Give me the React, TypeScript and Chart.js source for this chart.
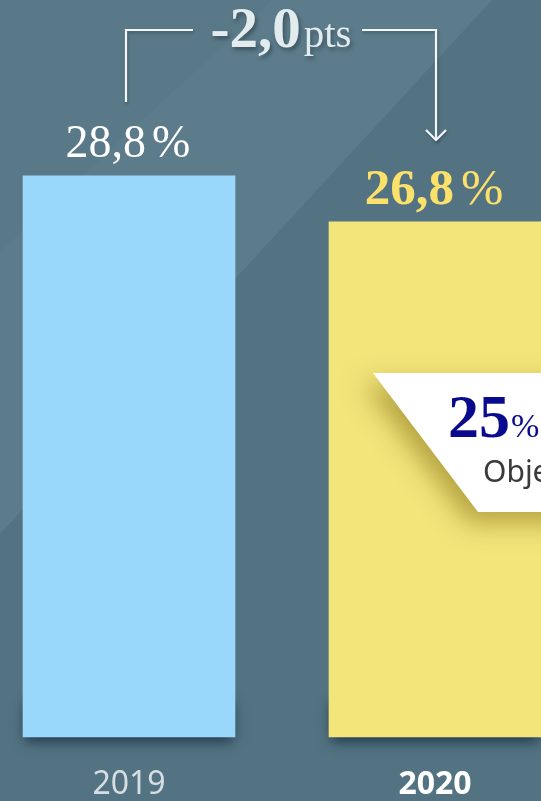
import React, { useEffect, useRef } from 'react';
import { Chart, registerables } from 'chart.js';

Chart.register(...registerables);

const categories = ['2019', '2020'];
const values = [28.8, 26.8];
const valueLabels = ['28,8', '26,8'];
const barColors = ['#99d8fa', '#f3e57a'];
const deltaValue = '-2,0';
const deltaUnit = 'pts';
const targetValue = '25';
const targetLabel = 'Objectif';
const yMin = 4.4;
const yMax = 36.45;

const SERIF = '"Liberation Serif", "DejaVu Serif", serif';
const SANS = '"Noto Sans", "Open Sans", sans-serif';

const bgPlugin = {
  id: 'bgPlugin',
  beforeDraw(chart: any) {
    const { ctx, width, height } = chart;
    ctx.save();
    ctx.fillStyle = '#537383';
    ctx.fillRect(0, 0, width, height);
    ctx.fillStyle = '#5d7c8b';
    ctx.beginPath();
    ctx.moveTo(0, 0);
    ctx.lineTo(492, 0);
    ctx.lineTo(0, 534);
    ctx.closePath();
    ctx.fill();
    ctx.fillStyle = '#5a7988';
    ctx.beginPath();
    ctx.moveTo(0, 0);
    ctx.lineTo(272, 0);
    ctx.lineTo(0, 252);
    ctx.closePath();
    ctx.fill();
    ctx.restore();
  },
};

const shadowPlugin = {
  id: 'shadowPlugin',
  beforeDatasetsDraw(chart: any) {
    const { ctx } = chart;
    const meta = chart.getDatasetMeta(0);
    meta.data.forEach((bar: any) => {
      const { x, base, width } = bar.getProps(['x', 'base', 'width'], true);
      ctx.save();
      ctx.shadowColor = 'rgba(25,45,62,0.8)';
      ctx.shadowBlur = 12;
      ctx.shadowOffsetY = 5;
      ctx.fillStyle = 'rgba(45,68,84,1)';
      ctx.fillRect(x - width / 2 + 2, base - 40, width - 4, 40);
      ctx.restore();
    });
  },
};

function drawMixed(ctx: any, parts: { text: string; font: string; gap?: number }[], cx: number, baseline: number, color: string) {
  let total = 0;
  const widths = parts.map((p) => {
    ctx.font = p.font;
    const w = ctx.measureText(p.text).width + (p.gap || 0);
    total += w;
    return w;
  });
  let x = cx - total / 2;
  ctx.fillStyle = color;
  ctx.textBaseline = 'alphabetic';
  ctx.textAlign = 'left';
  parts.forEach((p, i) => {
    ctx.font = p.font;
    ctx.fillText(p.text, x + (p.gap || 0), baseline);
    x += widths[i];
  });
}

const annotationPlugin = {
  id: 'annotationPlugin',
  afterDatasetsDraw(chart: any) {
    const { ctx } = chart;
    const meta = chart.getDatasetMeta(0);
    const b0 = meta.data[0].getProps(['x', 'y', 'width'], true);
    const b1 = meta.data[1].getProps(['x', 'y', 'width'], true);

    // value labels
    ctx.save();
    drawMixed(
      ctx,
      [
        { text: valueLabels[0], font: `400 46px ${SERIF}` },
        { text: '%', font: `400 46px ${SERIF}`, gap: 6 },
      ],
      b0.x - 1,
      b0.y - 19,
      '#ffffff'
    );
    drawMixed(
      ctx,
      [
        { text: valueLabels[1], font: `700 51px ${SERIF}` },
        { text: '%', font: `400 51px ${SERIF}`, gap: 7 },
      ],
      b1.x - 1,
      b1.y - 18,
      '#fbe06a'
    );
    ctx.restore();

    // delta arrow
    const yTop = 30;
    const xL = b0.x - 3;
    const xR = b1.x + 1;
    ctx.save();
    ctx.strokeStyle = '#f4f7f8';
    ctx.lineWidth = 2.2;
    ctx.shadowColor = 'rgba(20,35,45,0.35)';
    ctx.shadowBlur = 3;
    ctx.shadowOffsetX = 1;
    ctx.shadowOffsetY = 2;
    ctx.beginPath();
    ctx.moveTo(xL, 102);
    ctx.lineTo(xL, yTop);
    ctx.lineTo(193, yTop);
    ctx.stroke();
    ctx.beginPath();
    ctx.moveTo(362, yTop);
    ctx.lineTo(xR, yTop);
    ctx.lineTo(xR, 140);
    ctx.stroke();
    ctx.beginPath();
    ctx.moveTo(xR - 10, 130);
    ctx.lineTo(xR, 140);
    ctx.lineTo(xR + 10, 130);
    ctx.stroke();
    ctx.restore();

    ctx.save();
    ctx.shadowColor = 'rgba(20,35,45,0.45)';
    ctx.shadowBlur = 4;
    ctx.shadowOffsetX = 2;
    ctx.shadowOffsetY = 3;
    drawMixed(
      ctx,
      [
        { text: deltaValue, font: `700 57px ${SERIF}` },
        { text: deltaUnit, font: `400 41px ${SERIF}`, gap: 3 },
      ],
      281,
      47,
      '#e2ebee'
    );
    ctx.restore();

    // target callout
    const left = b1.x - b1.width / 2;
    const top = 373;
    const bottom = 512;
    ctx.save();
    ctx.shadowColor = 'rgba(120,100,10,0.5)';
    ctx.shadowBlur = 26;
    ctx.shadowOffsetX = -9;
    ctx.shadowOffsetY = 11;
    ctx.fillStyle = '#ffffff';
    ctx.beginPath();
    ctx.moveTo(left + 44, top);
    ctx.lineTo(chart.width + 40, top);
    ctx.lineTo(chart.width + 40, bottom);
    ctx.lineTo(left + 149, bottom);
    ctx.closePath();
    ctx.fill();
    ctx.restore();

    ctx.save();
    ctx.textAlign = 'left';
    ctx.textBaseline = 'alphabetic';
    ctx.fillStyle = '#0a0a8e';
    ctx.font = `700 62px ${SERIF}`;
    ctx.fillText(targetValue, 448, 437);
    const w25 = ctx.measureText(targetValue).width;
    ctx.font = `400 34px ${SERIF}`;
    ctx.fillText('%', 448 + w25 + 1, 437);
    ctx.fillStyle = '#3a3a3a';
    ctx.font = `400 30px ${SANS}`;
    ctx.fillText(targetLabel, 483, 482);
    ctx.restore();
  },
};

export default function App() {
  const ref = useRef<HTMLCanvasElement | null>(null);

  useEffect(() => {
    if (!ref.current) return;
    const chart = new Chart(ref.current, {
      type: 'bar',
      data: {
        labels: categories,
        datasets: [
          {
            data: values,
            backgroundColor: barColors,
            borderWidth: 0,
            barThickness: 212,
            base: yMin,
            clip: false as any,
          } as any,
        ],
      },
      options: {
        responsive: false,
        animation: false,
        devicePixelRatio: 1,
        layout: { padding: { left: 129, right: 106, top: 0, bottom: 0 } },
        plugins: {
          legend: { display: false },
          tooltip: { enabled: false },
          title: { display: false },
        },
        scales: {
          x: {
            offset: false,
            grid: { display: false, drawTicks: false },
            border: { display: false },
            afterFit: (scale: any) => {
              scale.height = 64;
            },
            ticks: {
              padding: 29,
              maxRotation: 0,
              autoSkip: false,
              color: (c: any) => (c.index === 0 ? '#d6dee3' : '#ffffff'),
              font: (c: any) => ({
                family: SANS,
                size: 32,
                weight: c.index === 0 ? 'normal' : 'bold',
              }),
            },
          },
          y: {
            display: false,
            min: yMin,
            max: yMax,
          },
        },
      },
      plugins: [bgPlugin, shadowPlugin, annotationPlugin],
    });
    return () => chart.destroy();
  }, []);

  return (
    <div style={{ position: 'fixed', left: 0, top: 0, width: 541, height: 801, overflow: 'hidden' }}>
      <canvas ref={ref} width={541} height={801} style={{ display: 'block', width: 541, height: 801 }} />
    </div>
  );
}
